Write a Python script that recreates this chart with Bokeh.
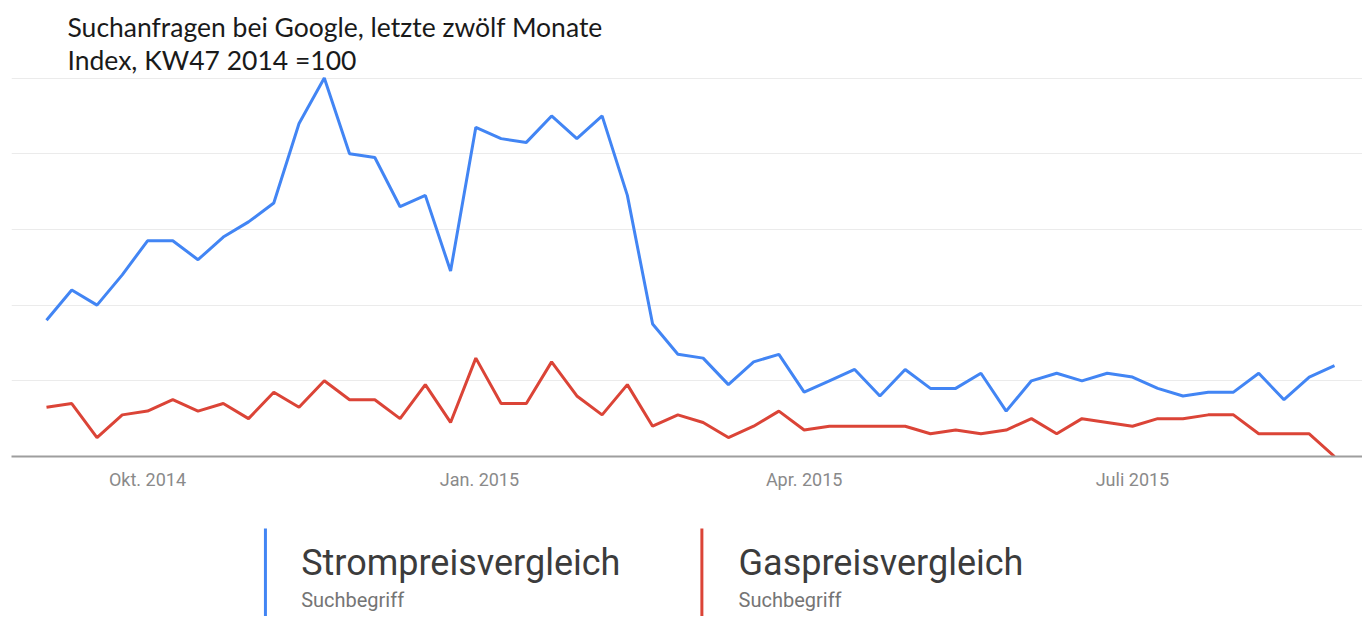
import pandas as pd
from bokeh.plotting import figure
from bokeh.models import Range1d, FixedTicker, Label, ColumnDataSource
from bokeh.layouts import column
from bokeh.embed import file_html
from bokeh.resources import INLINE
from bokeh.core.properties import value

# ---------------- data ----------------
title_lines = ["Suchanfragen bei Google, letzte zwölf Monate",
               "Index, KW47 2014 =100"]
series_names = ["Strompreisvergleich", "Gaspreisvergleich"]
series_sub = "Suchbegriff"
first_week_mid = "2014-09-03"   # mid of first weekly bucket

strom = [36, 44, 40, 48, 57, 57, 52, 58, 62, 67, 88, 100,
         80, 79, 66, 69, 49, 87, 84, 83, 90, 84, 90, 69,
         35, 27, 26, 19, 25, 27, 17, 20, 23, 16, 23, 18,
         18, 22, 12, 20, 22, 20, 22, 21, 18, 16, 17, 17,
         22, 15, 21, 24]
gas = [13, 14, 5, 11, 12, 15, 12, 14, 10, 17, 13, 20,
       15, 15, 10, 19, 9, 26, 14, 14, 25, 16, 11, 19,
       8, 11, 9, 5, 8, 12, 7, 8, 8, 8, 8, 6,
       7, 6, 7, 10, 6, 10, 9, 8, 10, 10, 11, 11,
       6, 6, 6, 0]

tick_dates = ["2014-10-01", "2015-01-01", "2015-04-01", "2015-07-01"]
tick_labels = ["Okt. 2014", "Jan. 2015", "Apr. 2015", "Juli 2015"]
grid_values = [0, 20, 40, 60, 80, 100]

colors = ["#4285F4", "#DB4437"]

# ---------------- main chart ----------------
dates = pd.date_range(first_week_mid, periods=len(strom), freq="7D")
src = ColumnDataSource(dict(date=dates, strom=strom, gas=gas))

W = 1362
H_MAIN = 505
H_LEG = 111

x_start = dates[0] - pd.Timedelta(hours=9.70 * 24)
x_end = dates[-1] + pd.Timedelta(hours=7.76 * 24)

p = figure(width=W, height=H_MAIN, output_backend="svg", toolbar_location=None,
           x_axis_type="datetime", y_axis_location=None,
           x_range=Range1d(x_start, x_end), y_range=Range1d(0, 120.5),
           min_border_left=11, min_border_right=0, min_border_top=0,
           min_border_bottom=49, outline_line_color=None,
           background_fill_color="white", border_fill_color="white")

p.xgrid.visible = False
p.ygrid.ticker = FixedTicker(ticks=grid_values)
p.ygrid.grid_line_color = "#ebebeb"
p.ygrid.grid_line_width = 1

tick_ms = [pd.Timestamp(d).value / 1e6 for d in tick_dates]
ax = p.xaxis[0]
ax.ticker = FixedTicker(ticks=tick_ms)
ax.major_label_overrides = {t: l for t, l in zip(tick_ms, tick_labels)}
ax.major_tick_line_color = None
ax.minor_tick_line_color = None
ax.major_tick_out = 0
ax.major_tick_in = 0
ax.axis_line_color = "#9e9e9e"
ax.axis_line_width = 2
ax.major_label_text_font = "Roboto"
ax.major_label_text_font_size = "18px"
ax.major_label_text_color = "#8a8a8a"
ax.major_label_standoff = 12

p.line("date", "strom", source=src, line_color=colors[0], line_width=3)
p.line("date", "gas", source=src, line_color=colors[1], line_width=3)

for txt, ybase in zip(title_lines, [430, 397]):
    p.add_layout(Label(x=56, y=ybase, x_units="screen", y_units="screen",
                       text=txt, text_font="Lato", text_font_size="26.5px",
                       text_color="#1a1a1a", text_baseline="alphabetic"))

# ---------------- legend ----------------
lg = figure(width=W, height=H_LEG, output_backend="svg", toolbar_location=None,
            x_range=Range1d(0, W), y_range=Range1d(H_LEG, 0),
            x_axis_location=None, y_axis_location=None,
            min_border=0, outline_line_color=None)
lg.grid.visible = False

bar_x = [256, 696]
text_x = [292, 733]
lg.segment(x0=bar_x, x1=bar_x, y0=[23, 23], y1=[H_LEG, H_LEG],
           line_color=colors, line_width=3)
lg.text(x=text_x, y=[57, 57], text=series_names, text_font=value("Roboto"),
        text_font_size="36px", text_color="#3c3c3c", text_baseline="alphabetic")
lg.text(x=text_x, y=[94, 94], text=[series_sub, series_sub], text_font=value("Roboto"),
        text_font_size="20px", text_color="#757575", text_baseline="alphabetic")

layout = column(p, lg, spacing=0)
open("out.html", "w").write(file_html(layout, INLINE))
